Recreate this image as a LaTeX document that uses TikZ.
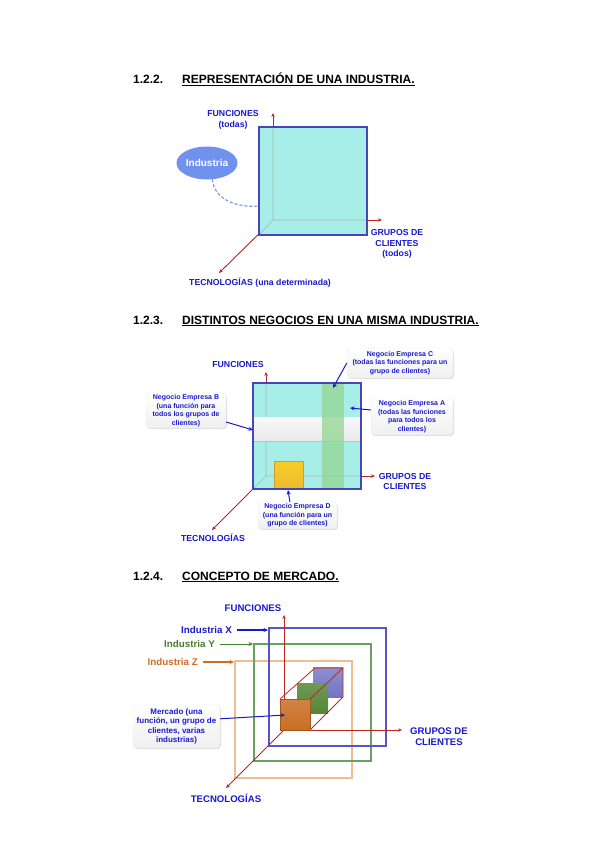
\documentclass[tikz,border=0pt]{standalone}
\usepackage{fontspec}
\setmainfont{Liberation Sans}
\usetikzlibrary{arrows.meta,shapes.geometric,shadows}

\definecolor{cubecyan}{RGB}{168,238,232}
\definecolor{edgeblue}{RGB}{70,70,180}
\definecolor{labelblue}{RGB}{25,25,205}
\definecolor{axisred}{RGB}{185,40,30}
\definecolor{ellblue}{RGB}{112,145,238}
\definecolor{bandgreen}{RGB}{150,215,150}
\definecolor{gold}{RGB}{240,186,50}
\definecolor{indXblue}{RGB}{85,85,200}
\definecolor{indYgreen}{RGB}{105,160,95}
\definecolor{indZtan}{RGB}{238,190,145}
\definecolor{txtX}{RGB}{25,25,200}
\definecolor{txtY}{RGB}{70,125,45}
\definecolor{txtZ}{RGB}{205,110,40}
\definecolor{mkorange}{RGB}{200,110,35}
\definecolor{mkgreen}{RGB}{85,135,55}
\definecolor{mkblue}{RGB}{115,115,195}

\newcommand{\fsz}[2]{\fontsize{#1}{#2}\selectfont}

\tikzset{
  axisline/.style={axisred,line width=0.9pt,-{Stealth[length=4pt,width=3.4pt]}},
  axislabel/.style={labelblue,font=\bfseries\fsz{8.7}{10.8},align=center,inner sep=0pt},
  biglabel/.style={axislabel,font=\bfseries\fsz{9.6}{11.6}},
  headline/.style={font=\bfseries\fsz{12}{14},anchor=base west,inner sep=0pt},
  notebox/.style={labelblue,font=\bfseries\fsz{7}{8.6},align=center,inner sep=1pt,
    rounded corners=4pt,top color=white,bottom color=gray!12,draw=gray!15,
    drop shadow={shadow xshift=1pt,shadow yshift=-1.2pt,opacity=0.25,fill=gray}},
  pointer/.style={labelblue,line width=1pt,-{Stealth[length=4.5pt,width=4pt]}},
  backline/.style={gray!75,line width=0.6pt,opacity=0.7},
  indlabel/.style={font=\bfseries\fsz{9.8}{11},anchor=east,inner sep=0pt},
  prism/.style={axisred,line width=0.8pt},
}

\begin{document}
\begin{tikzpicture}[x=1pt,y=-1pt,>=Stealth]

  \useasboundingbox (0,0) rectangle (600,848);
  \fill[white] (0,0) rectangle (600,848);

  % ===== 1.2.2. Representacion de una industria =====
  \node[headline] (numA) at (133,84) {1.2.2.};
  \node[headline] (headA) at (182,84) {\underline{REPRESENTACIÓN DE UNA INDUSTRIA.}};

  \coordinate (oA) at (273,220);
  \draw[axisline] (oA) -- (273,113);
  \draw[axisline] (oA) -- (382,220);
  \draw[axisline] (oA) -- (219,273);

  % --- the industry block ---
  \fill[cubecyan] (259,127) rectangle (367,235);
  \draw[backline] (273,127) -- (oA) -- (367,220) (oA) -- (259,235);
  \draw[edgeblue,line width=1.1pt] (259,127) rectangle (367,235);

  \node[axislabel] (funA) at (233,119.5) {FUNCIONES\\(todas)};
  \node[axislabel] (gruA) at (397,244) {GRUPOS DE\\CLIENTES\\(todos)};
  \node[axislabel] (tecA) at (260,283) {TECNOLOGÍAS (una determinada)};

  \node[ellipse,fill=ellblue,text=white,font=\bfseries\fsz{10}{12},inner sep=0pt,
        minimum width=61,minimum height=33] (ind) at (207,163) {Industria};
  \coordinate (indtip) at (259,206);
  \draw[ellblue,line width=1.1pt,densely dashed] (ind.-72) to[out=-85,in=185] (indtip);

  % ===== 1.2.3. Distintos negocios =====
  \node[headline] (numB) at (133,324) {1.2.3.};
  \node[headline] (headB) at (182,324) {\underline{DISTINTOS NEGOCIOS EN UNA MISMA INDUSTRIA.}};

  \coordinate (oB) at (266,476);
  \draw[axisline] (oB) -- (266,372);
  \draw[axisline] (oB) -- (375,476);
  \draw[axisline] (oB) -- (212,530);

  \fill[cubecyan] (253,383) rectangle (361,489);
  \draw[backline] (266,383) -- (oB) -- (361,476) (oB) -- (253,489);

  % --- business slices ---
  \shade[top color=gray!5,bottom color=gray!17] (253,417) rectangle (361,441);
  \draw[gray!50,line width=0.6pt] (253,441) -- (361,441);
  \fill[bandgreen,opacity=0.8] (322,383) rectangle (344,489);
  \shade[top color=gold!70!yellow,bottom color=gold] (274,461) rectangle (303,489);
  \draw[gold!85!black,line width=0.4pt] (274,461) rectangle (303,489);
  \draw[edgeblue,line width=1.1pt] (253,383) rectangle (361,489);

  \node[axislabel] (funB) at (238,365) {FUNCIONES};
  \node[axislabel] (gruB) at (405,481.5) {GRUPOS DE\\CLIENTES};
  \node[axislabel] (tecB) at (213,538) {TECNOLOGÍAS};

  \node[notebox,minimum width=106,minimum height=30] (negC) at (400,363)
    {Negocio Empresa C\\(todas las funciones para un\\grupo de clientes)};
  \node[notebox,minimum width=82,minimum height=37] (negA) at (412,416.5)
    {Negocio Empresa A\\(todas las funciones\\para todos los\\clientes)};
  \node[notebox,minimum width=80,minimum height=35] (negB) at (186,410.5)
    {Negocio Empresa B\\(una función para\\todos los grupos de\\clientes)};
  \node[notebox,minimum width=79,minimum height=27] (negD) at (297.5,515.5)
    {Negocio Empresa D\\(una función para un\\grupo de clientes)};

  \coordinate (tipC) at (333,388);
  \coordinate (tipA) at (350,408);
  \coordinate (tipB) at (253,430);
  \coordinate (tipD) at (288,490);
  \draw[pointer] (negC.west) -- (tipC);
  \draw[pointer] (negA.171) -- (tipA);
  \draw[pointer] (negB.-16) -- (tipB);
  \draw[pointer] (negD.119) -- (tipD);

  % ===== 1.2.4. Concepto de mercado =====
  \node[headline] (numC) at (133,580) {1.2.4.};
  \node[headline] (headC) at (182,580) {\underline{CONCEPTO DE MERCADO.}};

  % --- the three industries ---
  \draw[indZtan,line width=1.1pt] (235,661) rectangle (352,778);
  \draw[indYgreen,line width=1.1pt] (254,644) rectangle (371,761);
  \draw[indXblue,line width=1.1pt] (269,628) rectangle (386,746);

  \coordinate (oC) at (284,730);
  \draw[axisline] (oC) -- (284,615);
  \draw[axisline] (oC) -- (402,730);
  \draw[axisline] (oC) -- (226,788);

  % --- market cubes ---
  \shade[top color=mkblue!80!white,bottom color=mkblue] (313,667) rectangle (343,697);
  \shade[top color=mkgreen!85!white,bottom color=mkgreen] (297,683) rectangle (328,713);
  \draw[prism] (280,699) -- (315,668) -- (343,668) -- (343,697) -- (310,730);
  \draw[prism] (310,699) -- (343,668);
  \shade[top color=mkorange!85!white,bottom color=mkorange] (280,699) rectangle (310,730);
  \draw[mkorange!80!black,line width=0.4pt] (280,699) rectangle (310,730);

  \node[biglabel] (funC) at (253,608) {FUNCIONES};
  \node[biglabel] (gruC) at (439,736.5) {GRUPOS DE\\CLIENTES};
  \node[biglabel] (tecC) at (226,798) {TECNOLOGÍAS};

  \node[indlabel,txtX] (labX) at (232,630) {Industria X};
  \node[indlabel,txtY] (labY) at (215,644) {Industria Y};
  \node[indlabel,txtZ] (labZ) at (198,662) {Industria Z};
  \coordinate (hitX) at (268,630);
  \coordinate (hitY) at (253,644);
  \coordinate (hitZ) at (234,662);
  \draw[pointer,txtX,line width=1.2pt,shorten <=5pt] (labX.east) -- (hitX);
  \draw[pointer,txtY,line width=0.9pt,shorten <=5pt] (labY.east) -- (hitY);
  \draw[pointer,txtZ,line width=1.2pt,shorten <=5pt] (labZ.east) -- (hitZ);

  \node[notebox,font=\bfseries\fsz{8}{9.2},minimum width=87,minimum height=43] (merc)
    at (176.5,726.5) {Mercado (una\\función, un grupo de\\clientes, varias\\industrias)};
  \coordinate (tipM) at (285,715);
  \draw[pointer] (merc.10) -- (tipM);

\end{tikzpicture}
\end{document}
